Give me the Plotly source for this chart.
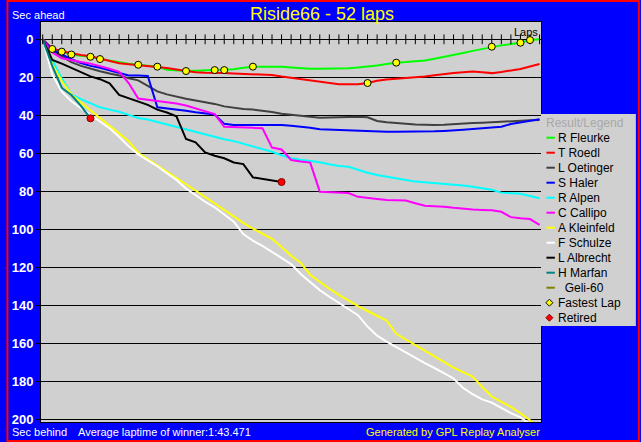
import plotly.graph_objects as go

# ---------------- data ----------------
laps = list(range(53))
driver_names = ["R Fleurke", "T Roedl", "L Oetinger", "S Haler", "R Alpen", "C Callipo",
                "A Kleinfeld", "F Schulze", "L Albrecht", "H Marfan", "Geli-60"]
driver_colors = ["#00ff00", "#ff0000", "#404040", "#0000ff", "#00ffff", "#ff00ff",
                 "#ffff00", "#ffffff", "#000000", "#008080", "#808000"]

fleurke = [0, 5.1, 6.5, 8.0, 8.6, 9.2, 10.4, 11.3, 12.3, 12.8, 13.4, 13.9, 14.4, 16.0, 16.4, 16.7,
           16.6, 16.4, 16.2, 16.2, 15.8, 15.0, 14.4, 14.4, 14.4, 14.4, 14.8, 15.3, 15.5, 15.5, 15.5,
           15.5, 15.3, 14.9, 14.5, 13.8, 13.0, 12.3, 12.0, 11.6, 11.1, 10.2, 9.3, 8.3, 7.2, 6.1, 5.0,
           3.9, 3.2, 2.5, 1.8, 0.4, 0.0]
roedl = [0, 4.8, 6.3, 7.5, 8.3, 8.9, 10.1, 11.3, 12.6, 13.1, 13.6, 14.0, 14.4, 15.1, 15.9, 16.6,
         17.3, 17.6, 17.6, 17.7, 18.0, 18.2, 18.3, 18.5, 18.8, 19.6, 20.3, 20.8, 21.4, 22.2, 23.0,
         23.6, 23.7, 23.6, 23.0, 21.8, 21.2, 20.8, 20.5, 20.2, 19.6, 18.9, 18.2, 17.7, 17.3, 17.0,
         17.3, 17.8, 17.2, 16.4, 15.6, 14.3, 13.0]
oetinger = [0, 6.0, 9.0, 12.0, 14.0, 15.5, 16.8, 18.0, 19.0, 20.5, 21.6, 24.5, 27.4, 29.0, 30.3,
            31.3, 32.2, 33.0, 34.0, 35.3, 36.2, 36.7, 37.0, 37.5, 38.3, 39.2, 39.8, 40.4, 40.9,
            41.3, 41.2, 41.0, 40.8, 40.7, 41.0, 43.0, 43.7, 44.2, 44.5, 44.8, 45.0, 45.1, 45.0,
            44.6, 44.4, 44.1, 43.9, 43.6, 43.3, 42.9, 42.7, 42.6, 42.5]
haler = [0, 5.5, 8.0, 10.5, 12.5, 14.0, 15.0, 16.2, 17.4, 19.0, 19.1, 19.3, 35.8, 36.3, 36.9, 37.6,
         38.4, 39.1, 39.6, 44.5, 45.1, 45.1, 45.1, 45.1, 45.1, 45.1, 45.5, 46.0, 46.6, 47.4, 47.6,
         47.8, 48.0, 48.1, 48.2, 48.4, 48.6, 48.6, 48.6, 48.6, 48.5, 48.4, 48.2, 48.0, 47.6, 47.2,
         46.8, 46.4, 46.0, 44.6, 43.7, 42.9, 42.1]
alpen = [0, 11.0, 20.5, 29.0, 31.5, 33.8, 35.8, 37.0, 38.1, 39.8, 41.4, 42.2, 43.5, 44.8, 46.2,
         47.7, 49.0, 50.2, 51.3, 52.6, 53.6, 55.0, 56.3, 57.6, 59.2, 61.0, 62.6, 63.4, 64.1, 64.7,
         65.8, 66.7, 67.1, 68.8, 70.2, 71.4, 72.4, 73.2, 74.0, 74.9, 75.3, 75.5, 75.9, 76.4, 76.9,
         77.6, 78.6, 79.2, 80.7, 80.9, 81.3, 82.5, 83.7]
callipo = [0, 7.0, 10.0, 11.2, 12.0, 12.8, 14.0, 15.5, 17.1, 23.0, 31.2, 31.8, 32.5, 33.1, 33.8,
           34.8, 36.2, 37.8, 39.4, 46.0, 46.3, 46.5, 46.6, 46.8, 57.0, 58.0, 63.5, 64.3, 64.9,
           80.2, 80.4, 80.6, 80.9, 82.9, 83.3, 84.0, 84.6, 84.8, 84.9, 86.3, 87.6, 87.9, 88.1,
           88.7, 89.3, 89.6, 89.8, 90.0, 90.8, 93.6, 94.2, 94.6, 97.7]
kleinfeld = [0, 13.2, 22.0, 29.0, 33.3, 37.3, 41.3, 45.5, 49.5, 53.6, 59.7, 63.0, 66.0, 69.6, 73.0,
             76.3, 79.6, 83.0, 86.5, 89.9, 93.5, 96.6, 99.6, 102.4, 105.0, 109.3, 113.9, 117.6,
             124.0, 127.6, 131.3, 134.5, 137.5, 140.4, 143.0, 145.4, 148.0, 155.0, 158.0, 161.0,
             164.2, 167.2, 170.0, 172.8, 175.2, 177.5, 183.0, 188.0, 190.8, 193.4, 196.8, 200.5,
             205.0]
schulze = [0, 18.5, 27.5, 32.6, 36.2, 39.7, 43.2, 46.8, 51.3, 56.3, 60.6, 63.8, 66.8, 70.5, 74.0,
           78.5, 82.2, 85.5, 88.4, 92.0, 96.0, 102.5, 106.0, 108.7, 112.0, 115.0, 118.3, 123.5,
           128.0, 132.0, 135.5, 138.6, 142.0, 145.2, 151.2, 156.0, 159.1, 162.0, 164.6, 167.5,
           170.4, 173.0, 175.6, 178.5, 183.5, 186.8, 189.5, 191.2, 194.0, 196.8, 199.0, 202.5,
           206.0]
albrecht = [0, 10.9, 12.8, 15.0, 17.0, 19.5, 21.0, 23.2, 29.3, 30.9, 32.5, 34.5, 37.0, 38.5, 40.5,
            52.5, 54.2, 59.5, 61.3, 62.6, 64.8, 65.7, 72.7, 73.6, 74.4, 75.1]
marfan = [0, 14.0, 25.6, 29.3, 35.0, 41.6]
geli = []

series = [fleurke, roedl, oetinger, haler, alpen, callipo, kleinfeld, schulze, albrecht, marfan, geli]

fastest_laps = [1, 2, 3, 5, 6, 10, 12, 15, 18, 19, 22, 34, 37, 47, 50, 51]
fastest_by = ["R Fleurke"] * 11 + ["T Roedl"] + ["R Fleurke"] * 4
retired_by = ["H Marfan", "L Albrecht"]

y_ticks = list(range(0, 201, 20))

title_text = "Riside66 - 52 laps"
avg_text = "Average laptime of winner:1:43.471"

# ---------------- layout helpers ----------------
W, H = 641, 442
ML, MR, MT, MB = 35, 100, 22, 20
PW, PH = W - ML - MR, H - MT - MB
BLUE = "#0000ff"
GRAY = "#d0d0d0"
FONT = "Liberation Sans, Arial, sans-serif"


def px2x(px):
    return (px - ML) / PW


def py2y(py):
    return (H - MB - py) / PH


by_name = dict(zip(driver_names, series))

fig = go.Figure()

for name, col, vals in zip(driver_names, driver_colors, series):
    if not vals:
        continue
    fig.add_trace(go.Scatter(x=laps[:len(vals)], y=vals, mode="lines", name=name,
                             line=dict(color=col, width=2), showlegend=False,
                             hoverinfo="x+y+name"))

# lap ticks crossing the zero line
fig.add_trace(go.Scatter(x=laps, y=[0] * len(laps), mode="markers", showlegend=False,
                         hoverinfo="skip",
                         marker=dict(symbol="line-ns", size=7, color="black",
                                     line=dict(color="black", width=1))))

fx = fastest_laps
fy = [by_name[d][l] for d, l in zip(fastest_by, fastest_laps)]
fig.add_trace(go.Scatter(x=fx, y=fy, mode="markers", name="Fastest Lap", showlegend=False,
                         marker=dict(symbol="circle", size=7, color="#ffff00",
                                     line=dict(color="black", width=1))))
rx = [len(by_name[d]) - 1 for d in retired_by]
ry = [by_name[d][-1] for d in retired_by]
fig.add_trace(go.Scatter(x=rx, y=ry, mode="markers", name="Retired", showlegend=False,
                         marker=dict(symbol="circle", size=7, color="#ff0000",
                                     line=dict(color="#800000", width=1))))

shapes = []
annotations = []

# legend (drawn by hand at the right side)
LEG_X0, LEG_X1 = 541, 637
LEG_TOP, LEG_BOT = 114, 326
ROW0, STEP = 137.7, 15.0
shapes.append(dict(type="rect", xref="paper", yref="paper", x0=px2x(LEG_X0), x1=px2x(LEG_X1),
                   y0=py2y(LEG_BOT), y1=py2y(LEG_TOP), fillcolor=GRAY, line=dict(width=0),
                   layer="above"))
annotations.append(dict(text="Result/Legend", xref="paper", yref="paper", x=px2x(544),
                        y=py2y(ROW0 - STEP), xanchor="left", yanchor="middle", showarrow=False,
                        font=dict(family=FONT, size=12, color="#a8a8a8")))
leg_labels = driver_names + ["Fastest Lap", "Retired"]
for i, lab in enumerate(leg_labels):
    yc = ROW0 + STEP * i
    if i < len(driver_names):
        shapes.append(dict(type="line", xref="paper", yref="paper", x0=px2x(546.5),
                           x1=px2x(555), y0=py2y(yc), y1=py2y(yc),
                           line=dict(color=driver_colors[i], width=2), layer="above"))
        text = lab if lab != "Geli-60" else "\u00a0\u00a0" + lab
    else:
        fill = "#ffff00" if lab == "Fastest Lap" else "#ff0000"
        edge = "black" if lab == "Fastest Lap" else "#800000"
        shapes.append(dict(type="path", xref="paper", yref="paper", xsizemode="pixel",
                           ysizemode="pixel", xanchor=px2x(549.5), yanchor=py2y(yc),
                           path="M0,3.5 L3.5,0 L0,-3.5 L-3.5,0 Z", fillcolor=fill,
                           line=dict(color=edge, width=1), layer="above"))
        text = lab
    annotations.append(dict(text=text, xref="paper", yref="paper", x=px2x(556), y=py2y(yc),
                            xanchor="left", yanchor="middle", showarrow=False,
                            font=dict(family=FONT, size=12, color="black")))

# red outer border
shapes.append(dict(type="rect", xref="paper", yref="paper", x0=px2x(1), x1=px2x(W - 1),
                   y0=py2y(H - 1), y1=py2y(1), line=dict(color="#ff0000", width=2),
                   fillcolor="rgba(0,0,0,0)", layer="above"))

annotations += [
    dict(text=title_text, xref="paper", yref="paper", x=px2x(319.5), y=py2y(13.7),
         xanchor="center", yanchor="middle", showarrow=False,
         font=dict(family=FONT, size=18, color="#ffff00")),
    dict(text="Sec ahead", xref="paper", yref="paper", x=px2x(4), y=py2y(15.5),
         xanchor="left", yanchor="middle", showarrow=False,
         font=dict(family=FONT, size=11, color="white")),
    dict(text="Sec behind", xref="paper", yref="paper", x=px2x(4), y=py2y(431.5),
         xanchor="left", yanchor="middle", showarrow=False,
         font=dict(family=FONT, size=11, color="white")),
    dict(text=avg_text, xref="paper", yref="paper", x=px2x(70), y=py2y(431.5),
         xanchor="left", yanchor="middle", showarrow=False,
         font=dict(family=FONT, size=11, color="white")),
    dict(text="Generated by GPL Replay Analyser", xref="paper", yref="paper", x=px2x(542),
         y=py2y(431.5), xanchor="right", yanchor="middle", showarrow=False,
         font=dict(family=FONT, size=11, color="#ffff00")),
    dict(text="Laps", xref="paper", yref="paper", x=px2x(540), y=py2y(32),
         xanchor="right", yanchor="middle", showarrow=False,
         font=dict(family=FONT, size=11, color="black")),
]

x_lo = (ML - 36.7) / 9.67
x_hi = (W - MR - 36.7) / 9.67
y_top = (MT - 39.3) / 1.9
y_bot = (H - MB - 39.3) / 1.9

fig.update_layout(
    width=W, height=H, margin=dict(l=ML, r=MR, t=MT, b=MB, pad=0),
    paper_bgcolor=BLUE, plot_bgcolor=GRAY, showlegend=False,
    shapes=shapes, annotations=annotations,
    xaxis=dict(range=[x_lo, x_hi], showgrid=False, zeroline=False, showticklabels=False,
               ticks="", showline=True, mirror=True, linecolor="black", linewidth=1,
               fixedrange=True),
    yaxis=dict(range=[y_bot, y_top], tickvals=y_ticks, ticktext=[str(v) for v in y_ticks],
               showgrid=True, gridcolor="black", gridwidth=1, zeroline=False,
               ticks="outside", ticklen=4, tickcolor="black", tickwidth=1,
               showline=True, mirror=True, linecolor="black", linewidth=1,
               tickfont=dict(family=FONT, size=13, color="white", weight="bold"),
               fixedrange=True),
    font=dict(family=FONT),
)

fig.write_html("out.html", config={"displayModeBar": False},
               post_script="document.body.style.margin='0';document.body.style.overflow='hidden';")
